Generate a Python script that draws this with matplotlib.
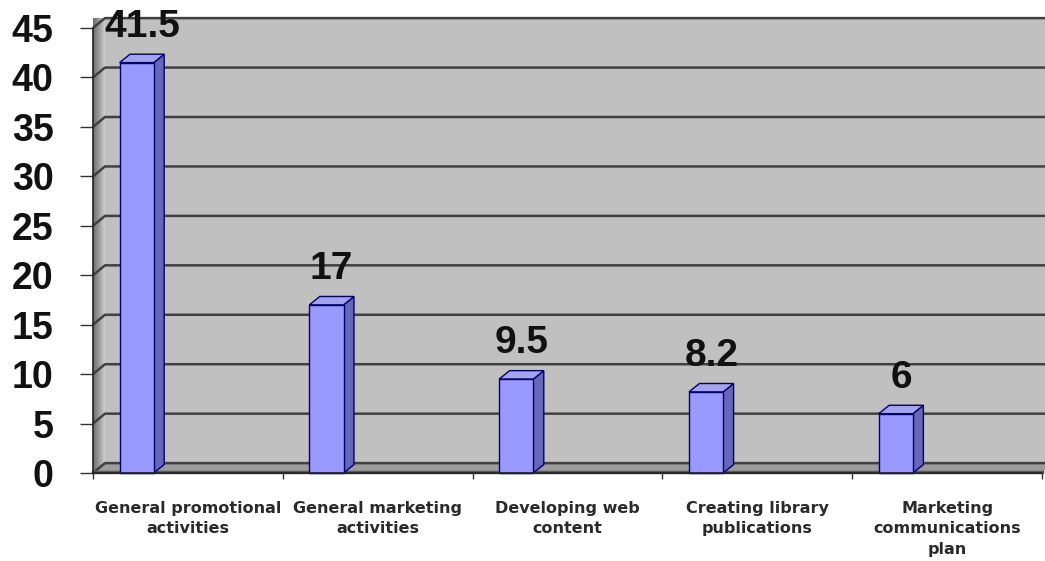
import numpy as np
import matplotlib
matplotlib.use("Agg")
import matplotlib.pyplot as plt
from matplotlib.patches import Polygon, Rectangle

# chart data
categories = [
    "General promotional\nactivities",
    "General marketing\nactivities",
    "Developing web\ncontent",
    "Creating library\npublications",
    "Marketing\ncommunications\nplan",
]
values = [41.5, 17, 9.5, 8.2, 6]
value_labels = ["41.5", "17", "9.5", "8.2", "6"]
y_ticks = [0, 5, 10, 15, 20, 25, 30, 35, 40, 45]

# look of the pseudo-3D column chart
WALL = "#c0c0c0"
FLOOR = "#9c9c9c"
GRID = "#404040"
BAR_FRONT = "#9999ff"
BAR_SIDE = "#6666bb"
BAR_TOP = "#a4a4ee"
BAR_EDGE = "#000070"

wall_dx, wall_dy = 0.063, 1.0   # depth of the back wall
bar_dx, bar_dy = 0.055, 0.85    # depth of each column
bar_off, bar_w = 0.14, 0.18

fig = plt.figure(figsize=(10.45, 5.61), dpi=100)
ax = fig.add_axes([93 / 1045, 88 / 561, 949 / 1045, 445 / 561])
n = len(categories)
top = max(y_ticks)
ax.set_xlim(0, n)
ax.set_ylim(0, top)
ax.patch.set_visible(False)

# back wall
ax.add_patch(Rectangle((wall_dx, wall_dy), n, top,
                       facecolor=WALL, edgecolor="none", clip_on=False, zorder=0))

# left side wall with a shading gradient
left_wall = Polygon([(0, 0), (wall_dx, wall_dy), (wall_dx, top + wall_dy), (0, top)],
                    closed=True, facecolor="none", edgecolor="none", clip_on=False)
ax.add_patch(left_wall)
grad = np.linspace(0, 1, 64).reshape(1, -1)
img = ax.imshow(grad, extent=(0, wall_dx, 0, top + wall_dy),
                cmap=matplotlib.colors.LinearSegmentedColormap.from_list(
                    "wall", ["#6e6e6e", "#9a9a9a", "#cfcfcf"]),
                aspect="auto", zorder=1, clip_on=False)
img.set_clip_path(left_wall)

# floor
ax.add_patch(Polygon([(0, 0), (n, 0), (n + wall_dx, wall_dy), (wall_dx, wall_dy)],
                     closed=True, facecolor=FLOOR, edgecolor="none",
                     clip_on=False, zorder=1))

# gridlines on the side wall and back wall
for v in y_ticks:
    ax.plot([0, wall_dx, n + wall_dx], [v, v + wall_dy, v + wall_dy],
            color=GRID, lw=1.8, clip_on=False, zorder=2, solid_capstyle="butt")
ax.plot([0, n], [0.15, 0.15], color="#5a5a5a", lw=2.5, clip_on=False, zorder=2)

# columns
for i, v in enumerate(values):
    x0 = i + bar_off
    x1 = x0 + bar_w
    ax.add_patch(Polygon([(x1, 0), (x1 + bar_dx, bar_dy), (x1 + bar_dx, v + bar_dy), (x1, v)],
                         closed=True, facecolor=BAR_SIDE, edgecolor=BAR_EDGE,
                         lw=1.0, zorder=4, clip_on=False))
    ax.add_patch(Polygon([(x0, v), (x1, v), (x1 + bar_dx, v + bar_dy), (x0 + bar_dx, v + bar_dy)],
                         closed=True, facecolor=BAR_TOP, edgecolor=BAR_EDGE,
                         lw=1.0, zorder=4, clip_on=False))
    ax.add_patch(Rectangle((x0, 0), bar_w, v, facecolor=BAR_FRONT,
                           edgecolor=BAR_EDGE, lw=1.0, zorder=5, clip_on=False))
    ax.text(x0 + (bar_w + bar_dx) / 2, v + 3.6, value_labels[i], ha="center", va="center",
            fontsize=28, fontweight="bold", family="Liberation Sans",
            color="#111111", zorder=6)

# axes lines and ticks
for side in ("top", "right"):
    ax.spines[side].set_visible(False)
for side in ("left", "bottom"):
    ax.spines[side].set_color("#222222")
    ax.spines[side].set_linewidth(1.2)
    ax.spines[side].set_zorder(7)

ax.set_yticks(y_ticks)
ax.set_yticklabels([str(t) for t in y_ticks], fontsize=27, fontweight="bold",
                   family="Liberation Sans", color="#111111")
ax.tick_params(axis="y", length=9.5, width=1, color="#333333", pad=19)

ax.set_xticks(np.arange(n + 1), minor=True)
ax.set_xticks(np.arange(n) + 0.5)
ax.set_xticklabels(categories, fontsize=11.5, fontweight="bold",
                   family="DejaVu Sans", color="#2a2a2a", linespacing=1.45)
ax.tick_params(axis="x", which="major", length=0, pad=20)
ax.tick_params(axis="x", which="minor", length=4, width=1, color="#333333")

fig.savefig("out.png", dpi=100, facecolor="white")
